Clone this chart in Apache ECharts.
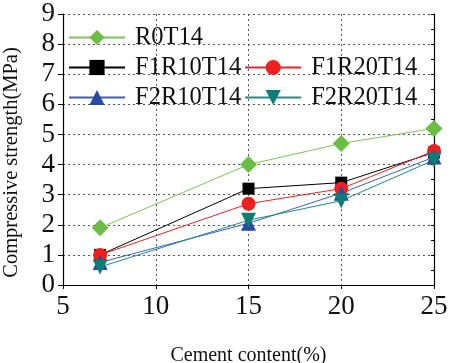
<!DOCTYPE html>
<html>
<head>
<meta charset="utf-8">
<script src="https://cdn.jsdelivr.net/npm/echarts@6/dist/echarts.min.js"></script>
<style>
  html, body { margin: 0; padding: 0; background: #fff; }
  #chart { width: 451px; height: 363px; }
</style>
</head>
<body>
<div id="chart"></div>
<script>
// Cement content (%) on the x axis
const cementContent = [7, 15, 20, 25];

// Compressive strength (MPa) per mix
const r0t14     = [1.9, 4.0, 4.7, 5.2];
const f1r10t14  = [1.0, 3.2, 3.4, 4.4];
const f1r20t14  = [1.0, 2.7, 3.2, 4.45];
const f2r10t14  = [0.75, 2.05, 3.05, 4.25];
const f2r20t14  = [0.6, 2.15, 2.8, 4.15];

// Legend rows
const legendRows = [
  ['R0T14'],
  ['F1R10T14', 'F1R20T14'],
  ['F2R10T14', 'F2R20T14']
];

const FONT = 'Liberation Serif';

function pairs(vals) {
  return cementContent.map((x, i) => [x, vals[i]]);
}

function lineSeries(name, vals, color, lineColor, symbol, size, extra) {
  return Object.assign({
    name: name,
    type: 'line',
    data: pairs(vals),
    symbol: symbol,
    symbolSize: size,
    itemStyle: { color: color },
    lineStyle: { color: lineColor, width: 1 },
    emphasis: { disabled: true },
    animation: false
  }, extra || {});
}

function legendRow(names, top) {
  return {
    orient: 'horizontal',
    itemWidth: 56,
    itemHeight: 19,
    itemGap: 3,
    left: 63,
    top: top,
    selectedMode: false,
    formatter: name => '{t|' + name + '}',
    textStyle: {
      color: '#111',
      rich: {
        t: { fontFamily: FONT, fontSize: 24.5, color: '#111', padding: [0, 0, 0, 5] }
      }
    },
    data: names
  };
}

const chart = echarts.init(document.getElementById('chart'), null, { renderer: 'canvas' });

chart.setOption({
  backgroundColor: '#fff',
  animation: false,
  textStyle: { fontFamily: FONT },
  grid: { left: 63, right: 17, top: 14, bottom: 78, containLabel: false, outerBoundsMode: 'none' },
  legend: legendRows.map((row, i) => legendRow(row, 20 + i * 30)),
  xAxis: [
    {
      type: 'value',
      min: 5, max: 25, interval: 5,
      name: 'Cement content(%)',
      nameLocation: 'middle',
      nameGap: 61,
      nameTextStyle: { fontFamily: FONT, fontSize: 20, color: '#111' },
      axisLine: { show: true, lineStyle: { color: '#000', width: 1.2 } },
      axisTick: { show: true, inside: false, length: 4, lineStyle: { color: '#000' } },
      axisLabel: { fontFamily: FONT, fontSize: 27, color: '#111', margin: 8 },
      splitLine: { show: true, lineStyle: { color: '#555', type: [2, 3], width: 1 } }
    },
    {
      type: 'value',
      position: 'top',
      min: 5, max: 25, interval: 5,
      axisLine: { show: true, lineStyle: { color: '#000', width: 1.2 } },
      axisTick: { show: false },
      axisLabel: { show: false },
      splitLine: { show: false }
    }
  ],
  yAxis: [
    {
      type: 'value',
      min: 0, max: 9, interval: 1,
      name: 'Compressive strength(MPa)',
      nameLocation: 'middle',
      nameGap: 41,
      nameTextStyle: { fontFamily: FONT, fontSize: 20.5, color: '#111', padding: [0, 26, 0, 0] },
      axisLine: { show: true, lineStyle: { color: '#000', width: 1.2 } },
      axisTick: { show: true, inside: false, length: 5, lineStyle: { color: '#000' } },
      axisLabel: { fontFamily: FONT, fontSize: 27, color: '#111', margin: 8 },
      splitLine: { show: true, lineStyle: { color: '#555', type: [2, 3], width: 1 } }
    },
    {
      type: 'value',
      position: 'right',
      min: 0, max: 9, interval: 0.5,
      axisLine: { show: true, lineStyle: { color: '#000', width: 1.2 } },
      axisTick: { show: true, inside: true, length: 3, lineStyle: { color: '#000' } },
      axisLabel: { show: false },
      splitLine: { show: false }
    }
  ],
  series: [
    lineSeries('R0T14', r0t14, '#6bbd45', '#7cc452', 'diamond', 17),
    lineSeries('F1R10T14', f1r10t14, '#000000', '#000000', 'rect', 12),
    lineSeries('F1R20T14', f1r20t14, '#ee2020', '#ee2020', 'circle', 14),
    lineSeries('F2R10T14', f2r10t14, '#2a4aa3', '#3b5cc4', 'triangle', 15),
    lineSeries('F2R20T14', f2r20t14, '#0d7b76', '#1b8c86', 'triangle', 15, { symbolRotate: 180 })
  ]
});
</script>
</body>
</html>
